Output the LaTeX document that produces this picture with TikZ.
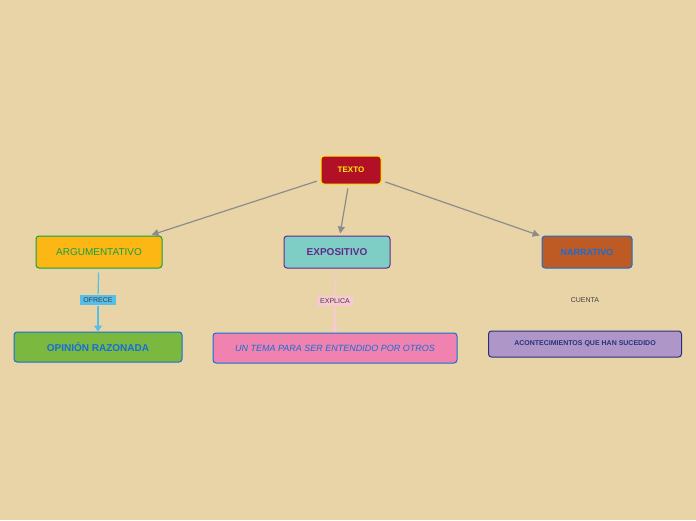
\documentclass[tikz,border=0pt]{standalone}
\usepackage{fontspec}
\setmainfont{Liberation Sans}
\usetikzlibrary{positioning,arrows.meta}
\definecolor{bg}{RGB}{232,212,167}
\definecolor{redbox}{RGB}{178,16,38}
\definecolor{argfill}{RGB}{252,183,20}
\definecolor{argtext}{RGB}{20,160,70}
\definecolor{expfill}{RGB}{126,206,198}
\definecolor{exptext}{RGB}{100,40,140}
\definecolor{narfill}{RGB}{190,90,35}
\definecolor{bluetext}{RGB}{20,110,220}
\definecolor{opfill}{RGB}{122,184,64}
\definecolor{temafill}{RGB}{240,130,175}
\definecolor{acfill}{RGB}{175,150,200}
\definecolor{navy}{RGB}{40,50,120}
\definecolor{ofrfill}{RGB}{85,190,235}
\definecolor{expl}{RGB}{250,200,210}
\definecolor{gline}{RGB}{140,140,140}
\tikzset{
  topic/.style={draw,line width=1pt,rounded corners=3pt,align=center,inner sep=0pt},
  link/.style={font=\fontsize{7}{8}\selectfont,text=black!75,inner sep=3pt},
  main/.style={-{Triangle[length=7pt,width=7pt]},gline,line width=1.2pt,shorten <=4pt,shorten >=2pt},
}
\begin{document}
\begin{tikzpicture}[x=1pt,y=-1pt]
    \fill[bg] (0,0) rectangle (696,520);
    \useasboundingbox (0,0) rectangle (696,520);

    \node[topic,fill=redbox,draw=yellow!90!orange,text=yellow,font=\bfseries\fontsize{8}{9}\selectfont,minimum width=60pt,minimum height=28pt] (texto) at (351,170) {TEXTO};
    \node[topic,fill=argfill,draw=argtext,text=argtext,font=\fontsize{10}{12}\selectfont,minimum width=126pt,minimum height=32pt] (arg) at (99,252) {ARGUMENTATIVO};
    \node[topic,fill=expfill,draw=exptext,text=exptext,font=\bfseries\fontsize{10}{12}\selectfont,minimum width=106pt,minimum height=32pt] (expo) at (337,252) {EXPOSITIVO};
    \node[topic,fill=narfill,draw=bluetext,text=bluetext,font=\bfseries\fontsize{9}{11}\selectfont,minimum width=90pt,minimum height=32pt] (narr) at (587,252) {NARRATIVO};

    \node[topic,fill=opfill,draw=bluetext,text=bluetext,font=\bfseries\fontsize{10}{12}\selectfont,minimum width=168pt,minimum height=30pt] (opinion) at (98,347) {OPINIÓN RAZONADA};
    \node[topic,fill=temafill,draw=bluetext,text=bluetext,font=\itshape\fontsize{9}{11}\selectfont,minimum width=244pt,minimum height=30pt] (tema) at (335,348) {UN TEMA PARA SER ENTENDIDO POR OTROS};
    \node[topic,fill=acfill,draw=navy,text=navy,font=\bfseries\fontsize{7}{8}\selectfont,minimum width=193pt,minimum height=26pt] (acont) at (585,344) {ACONTECIMIENTOS QUE HAN SUCEDIDO};

    \node[link,fill=ofrfill] (ofrece) at (98,300) {OFRECE};
    \node[link,fill=expl] (explica) at (335,301) {EXPLICA};
    \node[link] (cuenta) at (585,300) {CUENTA};

    % main branches
    \draw[main] (texto) -- (arg);
    \draw[main] (texto) -- (expo);
    \draw[main] (texto) -- (narr);

    % sub branches
    \draw[ofrfill,line width=1.2pt,shorten <=4pt] (arg) -- (ofrece);
    \draw[ofrfill,line width=1.2pt,-{Triangle[length=6pt,width=8pt]}] (ofrece) -- (opinion);
    \draw[expl,line width=1.2pt,shorten <=4pt] (expo) -- (explica);
    \draw[expl,line width=1.2pt,-{Triangle[length=6pt,width=8pt]}] (explica) -- (tema);
\end{tikzpicture}
\end{document}
